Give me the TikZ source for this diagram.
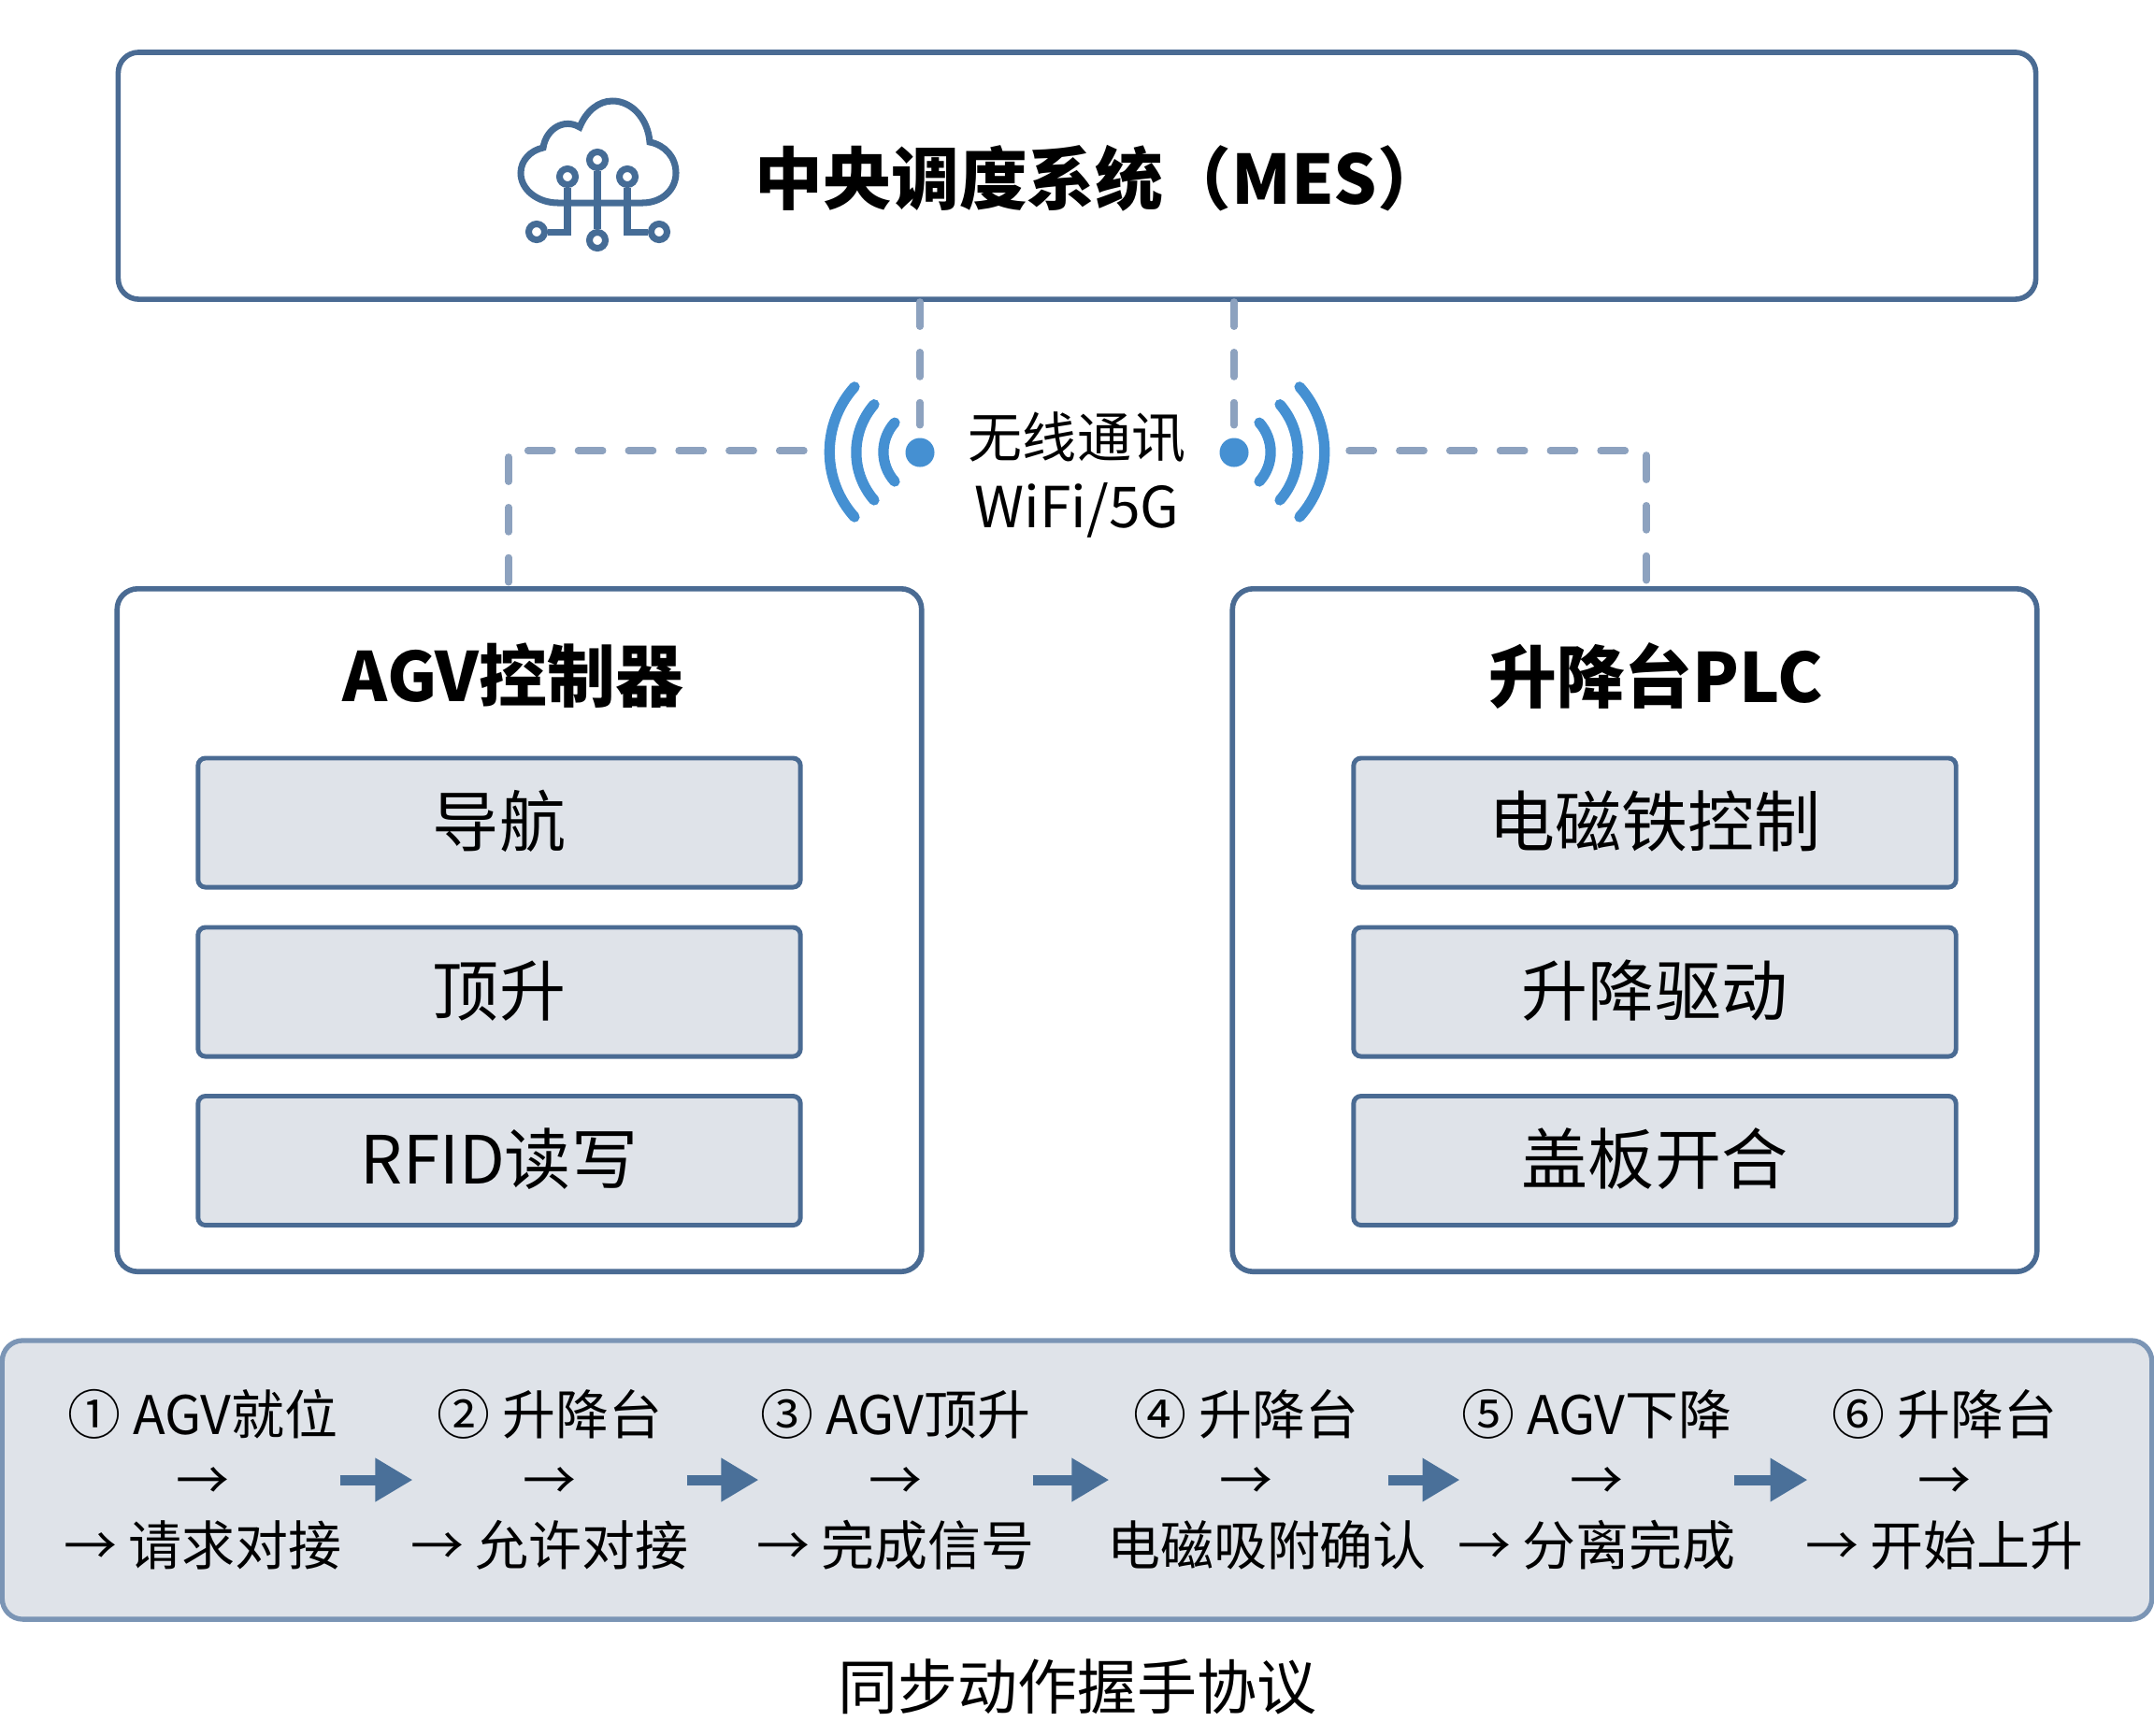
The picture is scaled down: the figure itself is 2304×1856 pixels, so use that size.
\documentclass[tikz,border=0pt]{standalone}
\usepackage{fontspec}
\setmainfont{Noto Sans CJK SC}
\usetikzlibrary{arrows.meta}
\definecolor{boxline}{HTML}{4A6B93}
\definecolor{boxfill}{HTML}{DFE3E9}
\definecolor{iconblue}{HTML}{456C96}
\definecolor{wavecol}{HTML}{4590D2}
\definecolor{linkcol}{HTML}{8DA2BF}
\definecolor{stripline}{HTML}{7B95B5}
\definecolor{steparrowcol}{HTML}{4A7099}
\tikzset{
  panelbox/.style={draw=boxline, line width=1.6pt, rounded corners=.22cm, fill=white},
  subbox/.style={draw=boxline, line width=1.4pt, rounded corners=.08cm, fill=boxfill,
    minimum width=6.44cm, minimum height=1.38cm, inner sep=0pt, text height=18pt, text depth=3.6pt,
    font=\fontsize{20.2}{24}\selectfont},
  paneltitle/.style={inner sep=0pt, font=\fontsize{20.7}{24}\selectfont\bfseries},
  stepnode/.style={align=center, inner sep=0pt, font=\fontsize{16.2}{19.9}\selectfont},
  linkline/.style={draw=linkcol, line width=2.1pt, line cap=round, dash pattern=on 7.5pt off 7.8pt},
  waveline/.style={draw=wavecol, line width=3.2pt, line cap=round},
  wavedot/.style={circle, fill=wavecol, minimum size=.31cm, inner sep=0pt},
  iconpin/.style={circle, draw=iconblue, line width=2pt, minimum size=.17cm, inner sep=0pt},
  iconline/.style={draw=iconblue, line width=2pt},
  steparrow/.style={draw=steparrowcol, line width=.11cm, shorten <=-.03cm, shorten >=-.03cm,
    -{Triangle[length=.4cm, width=.44cm]}}
}
\begin{document}
\begin{tikzpicture}[x=.01cm, y=-.01cm]
  \useasboundingbox (0,0) rectangle (2304,1856);
  % top panel
  \node[panelbox, minimum width=20.5cm, minimum height=2.64cm] (mes) at (1152,188) {};
  \node[paneltitle] (mestitle) at (1177,191) {中央调度系统（MES）};
  \draw[iconline] (597,217) -- (687,217) .. controls (708,217) and (723,203) .. (723,185)
    .. controls (723,168) and (711,155) .. (695,152)
    .. controls (693,127) and (676,108) .. (655,108)
    .. controls (640,108) and (627,119) .. (620,136)
    .. controls (603,126) and (584,138) .. (581,158)
    .. controls (567,161) and (557,172) .. (557,185)
    .. controls (557,203) and (575,217) .. (597,217) -- cycle;
  \node[iconpin] (pinA) at (607,189) {}; \node[iconpin] (pinB) at (639,171) {};
  \node[iconpin] (pinC) at (671,189) {}; \node[iconpin] (pinD) at (574,248) {};
  \node[iconpin] (pinE) at (639,257) {}; \node[iconpin] (pinF) at (705,248) {};
  \draw[iconline] (pinA) |- (pinD);
  \draw[iconline] (pinB) -- (pinE);
  \draw[iconline] (pinC) |- (pinF);
  % wireless
  \node[wavedot] (dotL) at (984,484) {};
  \node[wavedot] (dotR) at (1320,484) {};
  \node[inner sep=0pt, font=\fontsize{16.5}{20}\selectfont] (wifitext) at (1152,468) {无线通讯};
  \node[inner sep=0pt, font=\fontsize{17.2}{20}\selectfont] (wifisub) at (1152,546) {WiFi/5G};
  \draw[waveline] (914,553) arc[start angle=138, end angle=222, radius=104];
  \draw[waveline] (935,535) arc[start angle=139, end angle=221, radius=78];
  \draw[waveline] (957,515) arc[start angle=138, end angle=222, radius=47];
  \draw[waveline] (1390,553) arc[start angle=42, end angle=-42, radius=104];
  \draw[waveline] (1369,535) arc[start angle=41, end angle=-41, radius=78];
  \draw[waveline] (1347,515) arc[start angle=42, end angle=-42, radius=47];
  % controller panels
  \node[panelbox, minimum width=8.6cm, minimum height=7.3cm] (agv) at (555.5,995) {};
  \node[panelbox, minimum width=8.6cm, minimum height=7.3cm] (plc) at (1748.5,995) {};
  \node[paneltitle] (agvtitle) at (549,723) {AGV控制器};
  \node[paneltitle] (plctitle) at (1771,723) {升降台PLC};
  \node[subbox] (nav) at (534,880) {导航};
  \node[subbox] (lift) at (534,1061) {顶升};
  \node[subbox] (rfid) at (534,1241.5) {RFID读写};
  \node[subbox] (magnet) at (1770,880) {电磁铁控制};
  \node[subbox] (drive) at (1770,1061) {升降驱动};
  \node[subbox] (cover) at (1770,1241.5) {盖板开合};
  % dashed links
  \coordinate (linkL) at (860,482);
  \coordinate (linkR) at (1443,482);
  \coordinate (agvport) at (544,628);
  \coordinate (plcport) at (1761,628);
  \draw[linkline, shorten >=.13cm] (mes.south -| dotL) -- (dotL.north);
  \draw[linkline, shorten >=.13cm] (mes.south -| dotR) -- (dotR.north);
  \draw[linkline] (linkL) -| (agvport);
  \draw[linkline] (linkR) -| (plcport);
  % handshake strip
  \node[draw=stripline, line width=1.5pt, rounded corners=.22cm, fill=boxfill,
    minimum width=22.98cm, minimum height=2.98cm] (strip) at (1152,1583) {};
  \node[stepnode] (stepA) at (217,1583) {① AGV就位\\→\\→ 请求对接};
  \node[stepnode] (stepB) at (588,1583) {② 升降台\\→\\→ 允许对接};
  \node[stepnode] (stepC) at (958,1583) {③ AGV顶升\\→\\→ 完成信号};
  \node[stepnode] (stepD) at (1355,1583) {④ 升降台\hspace*{12.6pt}\\\mbox{→}\rule{12.6pt}{0pt}\\电磁吸附确认};
  \node[stepnode] (stepE) at (1708,1583) {⑤ AGV下降\\→\\→ 分离完成};
  \node[stepnode] (stepF) at (2080,1583) {⑥ 升降台\\→\\→ 开始上升};
  \draw[steparrow] (stepA.east) -- (stepB.west);
  \draw[steparrow] (stepB.east) -- (stepC.west);
  \draw[steparrow] (stepC.east) -- (stepD.west);
  \draw[steparrow] ([xshift=-.39cm]stepD.east) -- (stepE.west);
  \draw[steparrow] (stepE.east) -- (stepF.west);
  \node[inner sep=0pt, font=\fontsize{18.2}{22}\selectfont] (striptitle) at (1152,1804) {同步动作握手协议};
\end{tikzpicture}
\end{document}
